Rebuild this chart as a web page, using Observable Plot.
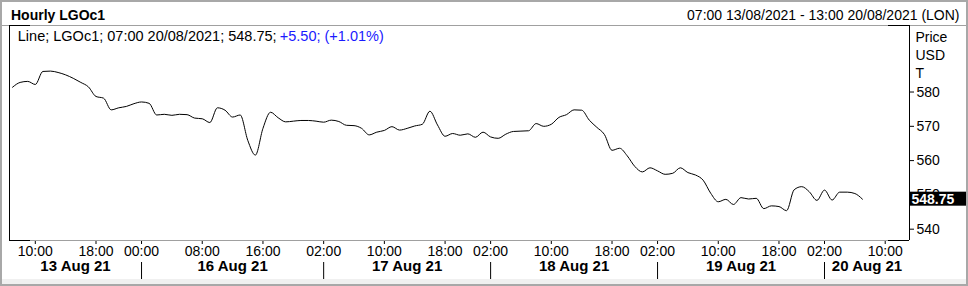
<!DOCTYPE html>
<html>
<head>
<meta charset="utf-8">
<script src="https://cdn.jsdelivr.net/npm/d3@7"></script>
<script src="https://cdn.jsdelivr.net/npm/@observablehq/plot@0.6"></script>
<style>
  html, body { margin: 0; padding: 0; background: #fff; }
  #chart svg { display: block; }
</style>
</head>
<body>
<div id="chart"></div>
<script>
// ---- data ----
const headerTitle = "Hourly LGOc1";
const headerRange = "07:00 13/08/2021 - 13:00 20/08/2021 (LON)";
const legendMain = "Line; LGOc1; 07:00 20/08/2021; 548.75; ";
const legendChange = "+5.50; (+1.01%)";
const axisUnits = ["Price", "USD", "T"];

const dayLabels = ["13 Aug 21", "16 Aug 21", "17 Aug 21", "18 Aug 21", "19 Aug 21", "20 Aug 21"];
const dayFirstHour = [7, 0, 2, 2, 2, 2];
const dayLastHour = [23, 23, 23, 23, 23, 13];
const dayTickHours = [[10, 18], [0, 8, 16], [2, 10, 18], [2, 10, 18], [2, 10, 18], [2, 10]];

const priceTicks = [540, 550, 560, 570, 580];
const yDomain = [536.7, 599.4];

// hourly closes, 07:00 13/08 .. 07:00 20/08
const prices = [
  581.4, 582.8, 583.1, 582.2, 586.0, 586.1, 585.7, 585.0, 584.0, 582.8,
  581.5, 578.7, 578.2, 574.8, 575.4, 575.8, 576.6,
  577.1, 576.7, 573.3, 573.5, 573.2, 573.5, 573.4, 572.4, 572.2, 571.1,
  575.4, 574.7, 572.7, 573.3, 565.9, 561.6, 569.4, 574.1, 572.5, 571.3,
  571.5, 571.7, 571.7, 571.5,
  571.2, 571.8, 571.4, 570.3, 570.2, 569.4, 567.5, 568.3, 568.8, 569.9,
  568.9, 569.4, 570.1, 570.6, 574.4, 570.4, 567.1, 567.9, 567.4, 567.8,
  566.8, 568.3,
  566.9, 566.5, 567.7, 568.5, 568.6, 568.7, 570.8, 570.0, 570.6, 572.6,
  573.4, 574.8, 574.7, 571.8, 569.7, 567.6, 563.0, 563.6, 561.4, 558.3,
  556.7, 557.9,
  557.0, 556.0, 556.3, 557.9, 556.5, 555.8, 554.3, 550.5, 548.0, 548.7,
  547.2, 549.2, 548.8, 549.0, 546.0, 546.8, 546.6, 545.4, 551.5, 552.4,
  550.9, 548.4,
  551.4, 548.5, 550.8, 550.8, 550.4, 548.75
];

// ---- derived structures ----
const bars = [];
dayLabels.forEach((label, d) => {
  for (let h = dayFirstHour[d]; h <= dayLastHour[d]; h++) bars.push({day: d, hour: h, i: bars.length});
});
const series = prices.map((price, i) => ({i, price}));
const last = series[series.length - 1];
const dayStart = dayLabels.map((_, d) => bars.find(b => b.day === d).i);
const xDomain = [-0.4, bars.length - 1 + 0.2];
const tickIdx = bars.filter(b => dayTickHours[b.day].includes(b.hour)).map(b => b.i);
const separators = dayStart.slice(1);
const dayCenters = dayLabels.map((label, d) => ({
  label,
  x: ((d === 0 ? xDomain[0] : dayStart[d]) + (d === dayLabels.length - 1 ? xDomain[1] : dayStart[d + 1])) / 2
}));
const pad2 = n => String(n).padStart(2, "0");

const W = 968, H = 286;
const mL = 9, mR = 59, mT = 25, mB = 46;
const frameW = W - mL - mR;
const stub = 21;
const sepTop = 262, sepBottom = 279;
const font = '"Liberation Sans", Arial, sans-serif';

const chart = Plot.plot({
  width: W,
  height: H,
  marginLeft: mL,
  marginRight: mR,
  marginTop: mT,
  marginBottom: mB,
  style: {
    fontFamily: font,
    fontSize: "14px",
    color: "black",
    background: "linear-gradient(to bottom, #ffffff 0px, #ffffff 279px, #f0f0f0 279px, #f0f0f0 284px, #ffffff 284px)",
    outline: "2px solid #a8a8a8",
    outlineOffset: "-2px",
    overflow: "visible"
  },
  x: {
    type: "linear",
    domain: xDomain,
    ticks: tickIdx,
    tickFormat: i => pad2(bars[i].hour) + ":00",
    tickSize: 4,
    tickPadding: 2,
    label: null
  },
  y: {
    type: "linear",
    domain: yDomain,
    axis: "right",
    ticks: priceTicks,
    tickFormat: d => String(d),
    tickSize: 4,
    tickPadding: 3,
    label: null
  },
  marks: [
    // header separator / frame lines
    Plot.ruleY([yDomain[1]], {stroke: "#a0a0a0", insetLeft: -mL, insetRight: -mR}),
    Plot.ruleY([yDomain[0]], {stroke: "#a0a0a0"}),
    Plot.ruleY([yDomain[0], yDomain[1]], {stroke: "black", insetRight: frameW - stub}),
    Plot.ruleY([yDomain[0], yDomain[1]], {stroke: "black", insetLeft: frameW - stub}),
    Plot.ruleX(xDomain, {stroke: "black"}),
    // day separators in the date row
    Plot.ruleX(separators, {stroke: "black", insetTop: sepTop - mT, insetBottom: -(sepBottom - (H - mB))}),
    // price line
    Plot.line(series, {x: "i", y: "price", stroke: "black", strokeWidth: 1, curve: "monotone-x"}),
    // last value marker on the axis
    Plot.rect([last], {x1: xDomain[1], x2: xDomain[1], y1: "price", y2: "price", fill: "black",
      insetRight: -57, insetTop: -7, insetBottom: -7}),
    Plot.text([last], {x: xDomain[1], y: "price", text: d => d.price.toFixed(2), dx: 2, textAnchor: "start",
      fill: "white", fontWeight: "bold", fontSize: 14}),
    // header texts
    Plot.text([headerTitle], {text: d => d, frameAnchor: "top-left", textAnchor: "start", lineAnchor: "top",
      dx: 1.5, dy: -15, fontWeight: "bold", fontSize: 14, fill: "black"}),
    Plot.text([headerRange], {text: d => d, frameAnchor: "top-right", textAnchor: "end", lineAnchor: "top",
      dx: 50, dy: -15, fontSize: 14, fill: "black"}),
    // legend line
    Plot.text([legendMain], {text: d => d, frameAnchor: "top-left", textAnchor: "start", lineAnchor: "top",
      dx: 8.3, dy: 5, fontSize: 14.5, fill: "black"}),
    Plot.text([legendChange], {text: d => d, frameAnchor: "top-left", textAnchor: "start", lineAnchor: "top",
      dx: 270.3, dy: 5, fontSize: 14.5, fill: "#1a1aff"}),
    // axis units
    Plot.text([axisUnits.join("\n")], {text: d => d, frameAnchor: "top-right", textAnchor: "start", lineAnchor: "top",
      dx: 6, dy: 3.3, lineHeight: 18 / 14, fontSize: 14, fill: "black"}),
    // day labels
    Plot.text(dayCenters, {x: "x", text: "label", frameAnchor: "bottom", dy: 30, fontWeight: "bold",
      fontSize: 15, fill: "black"})
  ]
});

document.getElementById("chart").appendChild(chart);
</script>
</body>
</html>
